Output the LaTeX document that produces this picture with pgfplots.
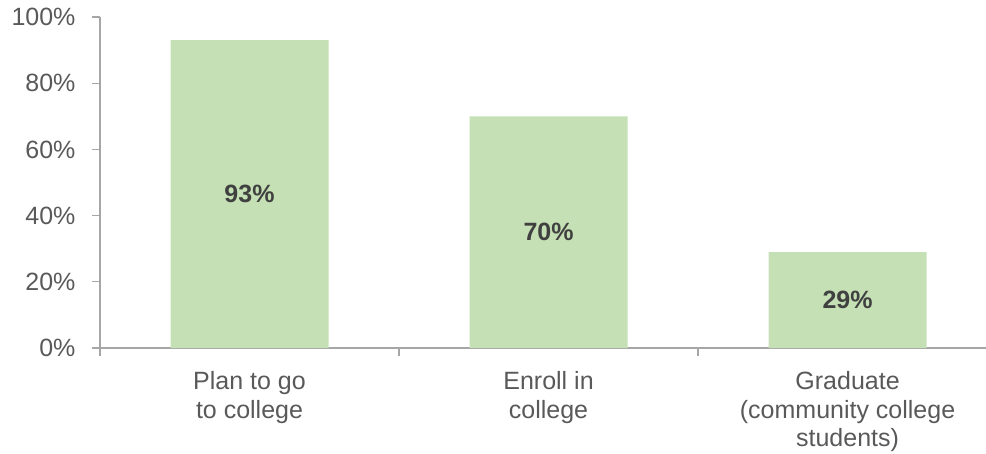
\documentclass[border=0pt]{standalone}
\usepackage{fontspec}
\setmainfont{Liberation Sans}
\usepackage{pgfplots}
\pgfplotsset{compat=1.18}
\definecolor{barg}{HTML}{C5E0B4}
\definecolor{txt}{HTML}{595959}
\definecolor{lbl}{HTML}{404040}
\definecolor{axg}{HTML}{A6A6A6}
\begin{document}
\begin{tikzpicture}[x=1pt,y=1pt]
\path[use as bounding box] (0,0) rectangle (986,-453);
\begin{axis}[
  at={(100pt,-348pt)}, anchor=south west,
  width=886pt, height=331pt, scale only axis,
  xmin=-0.5, xmax=2.463, ymin=0, ymax=100,
  axis lines*=left,
  axis line style={-, draw=axg, line width=1.5pt},
  ytick={0,20,...,100},
  yticklabel={\pgfmathprintnumber{\tick}\%},
  xtick={-0.5,0.5,1.5},
  xticklabels={},
  extra x ticks={0,1,2},
  extra x tick labels={{Plan to go\\to college},{Enroll in\\college},{Graduate\\(community college\\students)}},
  extra x tick style={tick style={draw=none}},
  tick align=outside, major tick length=8pt,
  tick style={draw=axg, line width=1.2pt},
  ticklabel style={font=\fontsize{25}{28.5}\selectfont, text=txt},
  yticklabel style={xshift=-13pt},
  xticklabel style={align=center, yshift=-12pt},
  /pgf/number format/assume math mode=true,
]
\addplot[ybar, bar width=158pt, fill=barg, draw=none] coordinates {(0,93) (1,70) (2,29)};
\addplot[draw=none, mark=none, point meta=explicit,
  nodes near coords={\pgfmathprintnumber{\pgfplotspointmeta}\%},
  nodes near coords style={anchor=center, font=\bfseries\fontsize{25}{29}\selectfont, text=lbl}]
  coordinates {(0,46.5) [93] (1,35) [70] (2,14.5) [29]};
\end{axis}
\end{tikzpicture}
\end{document}
